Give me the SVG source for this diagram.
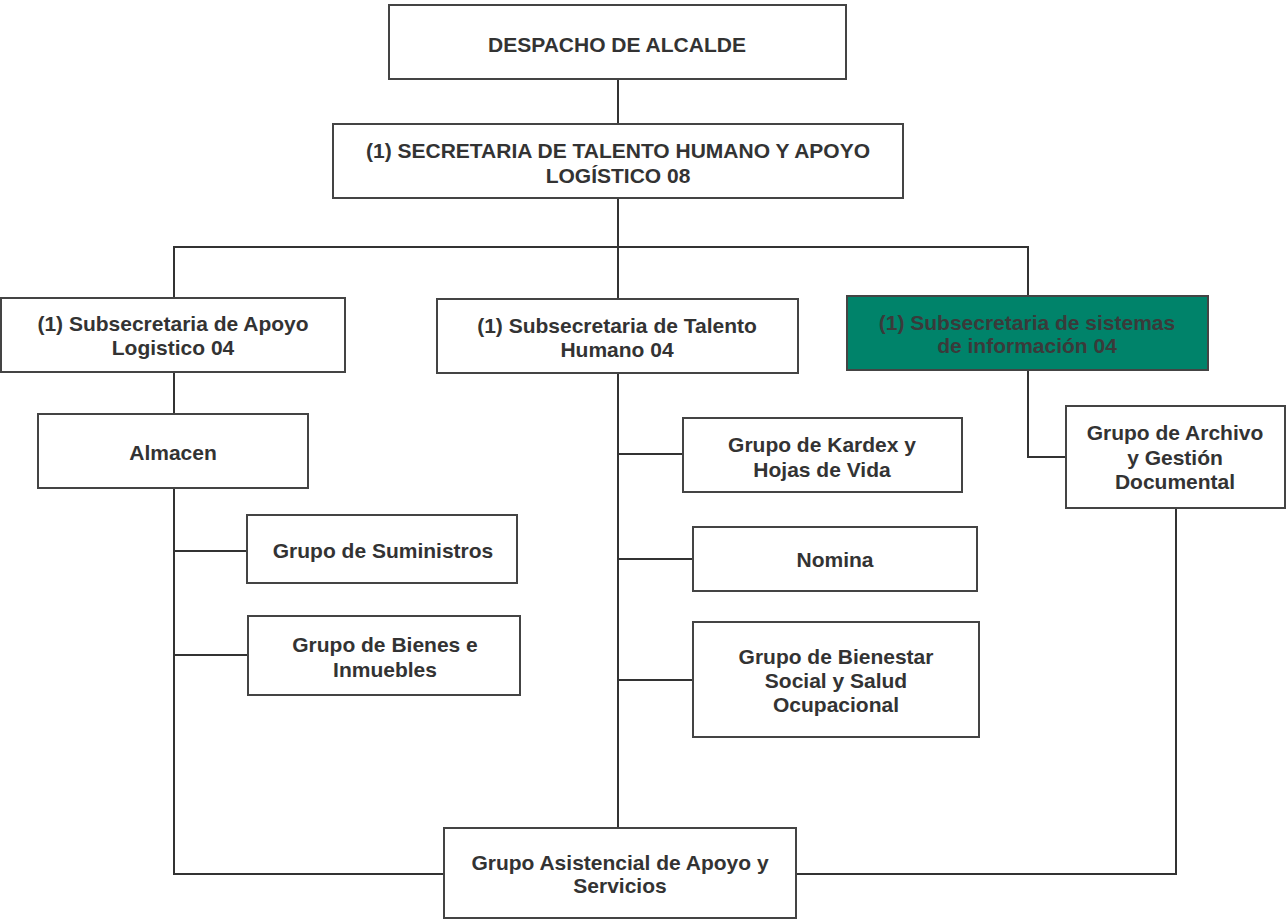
<svg xmlns="http://www.w3.org/2000/svg" width="1288" height="922" viewBox="0 0 1288 922">
  <style>
    .box { fill: #ffffff; stroke: #444444; stroke-width: 2; }
    .green { fill: #00836a; stroke: #444444; stroke-width: 2; }
    .lbl { font-family: "Liberation Sans", Arial, sans-serif; font-size: 21px; font-weight: bold; fill: #333333; text-anchor: middle; }
    .lbl-dark { fill: #3a3a3a; }
    .conn { fill: none; stroke: #333333; stroke-width: 2; }
  </style>
  <rect width="1288" height="922" fill="#ffffff"/>

  <!-- connectors -->
  <g id="connectors" class="conn">
    <path d="M618 79 V124"/>
    <path d="M618 198 V247"/>
    <path d="M174 298 V247 H1028 V296"/>
    <path d="M618 247 V299"/>
    <path d="M174 372 V414"/>
    <path d="M174 488 V874 H444"/>
    <path d="M174 551 H247"/>
    <path d="M174 655 H248"/>
    <path d="M618 373 V828"/>
    <path d="M618 454 H683"/>
    <path d="M618 559 H693"/>
    <path d="M618 680 H693"/>
    <path d="M1028 370 V457 H1066"/>
    <path d="M1176 508 V874 H796"/>
  </g>

  <g id="despacho">
    <rect class="box" x="389" y="5" width="457" height="74"/>
    <text class="lbl" x="617" y="52">DESPACHO DE ALCALDE</text>
  </g>

  <g id="secretaria">
    <rect class="box" x="333" y="124" width="570" height="74"/>
    <text class="lbl" x="618" y="158">(1) SECRETARIA DE TALENTO HUMANO Y APOYO</text>
    <text class="lbl" x="618" y="183">LOGÍSTICO 08</text>
  </g>

  <g id="sub-apoyo">
    <rect class="box" x="1" y="298" width="344" height="74"/>
    <text class="lbl" x="173" y="331">(1) Subsecretaria de Apoyo</text>
    <text class="lbl" x="173" y="355">Logistico 04</text>
  </g>

  <g id="sub-talento">
    <rect class="box" x="437" y="299" width="361" height="74"/>
    <text class="lbl" x="617" y="333">(1) Subsecretaria de Talento</text>
    <text class="lbl" x="617" y="357">Humano 04</text>
  </g>

  <g id="sub-sistemas">
    <rect class="green" x="847" y="296" width="361" height="74"/>
    <text class="lbl lbl-dark" x="1027" y="330">(1) Subsecretaria de sistemas</text>
    <text class="lbl lbl-dark" x="1027" y="353">de información 04</text>
  </g>

  <g id="almacen">
    <rect class="box" x="38" y="414" width="270" height="74"/>
    <text class="lbl" x="173" y="460">Almacen</text>
  </g>

  <g id="suministros">
    <rect class="box" x="247" y="515" width="270" height="68"/>
    <text class="lbl" x="383" y="558">Grupo de Suministros</text>
  </g>

  <g id="bienes">
    <rect class="box" x="248" y="616" width="272" height="79"/>
    <text class="lbl" x="385" y="652">Grupo de Bienes e</text>
    <text class="lbl" x="385" y="677">Inmuebles</text>
  </g>

  <g id="kardex">
    <rect class="box" x="683" y="418" width="279" height="74"/>
    <text class="lbl" x="822" y="452">Grupo de Kardex y</text>
    <text class="lbl" x="822" y="477">Hojas de Vida</text>
  </g>

  <g id="nomina">
    <rect class="box" x="693" y="527" width="284" height="64"/>
    <text class="lbl" x="835" y="567">Nomina</text>
  </g>

  <g id="bienestar">
    <rect class="box" x="693" y="622" width="286" height="115"/>
    <text class="lbl" x="836" y="664">Grupo de Bienestar</text>
    <text class="lbl" x="836" y="688">Social y Salud</text>
    <text class="lbl" x="836" y="712">Ocupacional</text>
  </g>

  <g id="archivo">
    <rect class="box" x="1066" y="406" width="219" height="102"/>
    <text class="lbl" x="1175" y="440">Grupo de Archivo</text>
    <text class="lbl" x="1175" y="465">y Gestión</text>
    <text class="lbl" x="1175" y="489">Documental</text>
  </g>

  <g id="asistencial">
    <rect class="box" x="444" y="828" width="352" height="90"/>
    <text class="lbl" x="620" y="870">Grupo Asistencial de Apoyo  y</text>
    <text class="lbl" x="620" y="893">Servicios</text>
  </g>
</svg>
